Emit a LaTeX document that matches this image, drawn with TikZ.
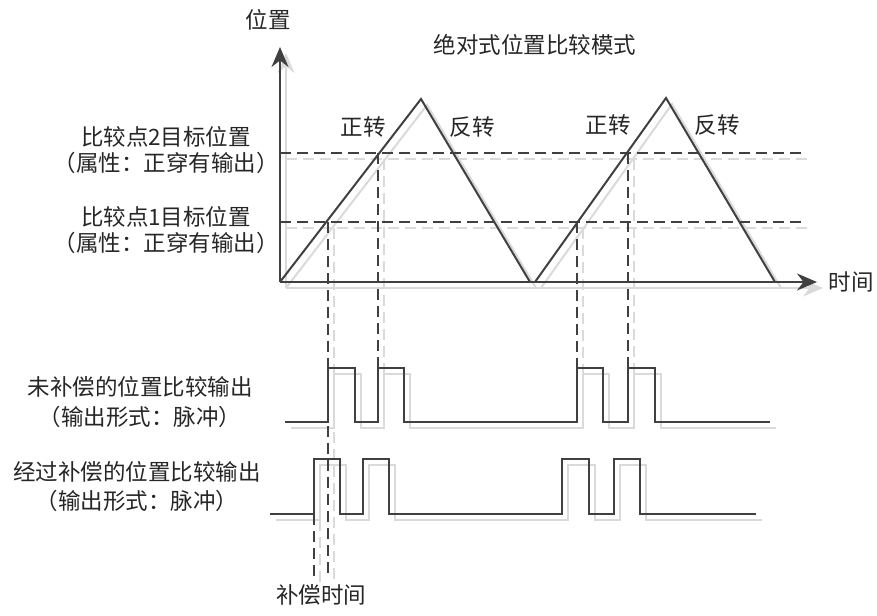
\documentclass[tikz,border=0pt]{standalone}
\usepackage{fontspec}
\setmainfont{Noto Sans CJK SC}
\usetikzlibrary{arrows.meta}

\definecolor{ink}{HTML}{404040}
\definecolor{shade}{HTML}{DADADA}

\tikzset{
  wave/.style={line width=2pt, line join=miter},
  guide/.style={line width=2pt, dash pattern=on 11pt off 6pt},
  axis/.style={line width=2pt, -{Stealth[length=20pt,width=17pt]}},
  lbl/.style={font=\fontsize{22.5}{26}\selectfont, text=black!85, inner sep=0pt},
}

\begin{document}
\begin{tikzpicture}[x=1pt,y=-1pt]
    \useasboundingbox (0,0) rectangle (877,615);

    % shadow first, then the dark lines
    \foreach \d/\c in {6/shade,0/ink}{
    \begin{scope}[shift={(\d,\d)}, color=\c]
        % axes
        \draw[axis] (280,282) -- (280,47);
        \draw[axis] (280,282) -- (817,282);
        % position ramps
        \draw[wave] (280,282) -- (421,99) -- (530,282);
        \draw[wave] (535,282) -- (666,98) -- (775,282);
        % target positions
        \draw[guide] (280,153) -- (802,153);
        \draw[guide] (280,222) -- (802,222);
        % crossing instants
        \draw[guide] (328,222) -- (328,577);
        \draw[guide] (378,153) -- (378,368);
        \draw[guide] (577,222) -- (577,368);
        \draw[guide] (628,153) -- (628,368);
        \draw[guide] (314,514) -- (314,577);
        % uncompensated output
        \draw[wave] (285,422) -- (328,422) -- (328,368) -- (355,368) -- (355,422)
            -- (378,422) -- (378,368) -- (404,368) -- (404,422) -- (577,422)
            -- (577,368) -- (603,368) -- (603,422) -- (628,422) -- (628,368)
            -- (655,368) -- (655,422) -- (770,422);
        % compensated output
        \draw[wave] (270,514) -- (314,514) -- (314,459) -- (340,459) -- (340,514)
            -- (363,514) -- (363,459) -- (389,459) -- (389,514) -- (562,514)
            -- (562,459) -- (589,459) -- (589,514) -- (614,514) -- (614,459)
            -- (640,459) -- (640,514) -- (756,514);
    \end{scope}
    }

    \node[lbl] (ylab) at (268,20) {位置};
    \node[lbl] (title) at (535,45) {绝对式位置比较模式};
    \node[lbl] (fwd1) at (363,127) {正转};
    \node[lbl] (rev1) at (472,127) {反转};
    \node[lbl] (fwd2) at (608,125) {正转};
    \node[lbl] (rev2) at (717,125) {反转};
    \node[lbl] (xlab) at (851,282) {时间};

    \node[lbl, align=center] (cmp2) at (166,150) {比较点2目标位置\\（属性：正穿有输出）};
    \node[lbl, align=center] (cmp1) at (166,230) {比较点1目标位置\\（属性：正穿有输出）};
    \node[lbl, align=center] (raw) at (140,402) {未补偿的位置比较输出\\[4pt]（输出形式：脉冲）};
    \node[lbl, align=center] (comp) at (137,487) {经过补偿的位置比较输出\\[3pt]（输出形式：脉冲）};
    \node[lbl] (delay) at (321,595) {补偿时间};
\end{tikzpicture}
\end{document}
